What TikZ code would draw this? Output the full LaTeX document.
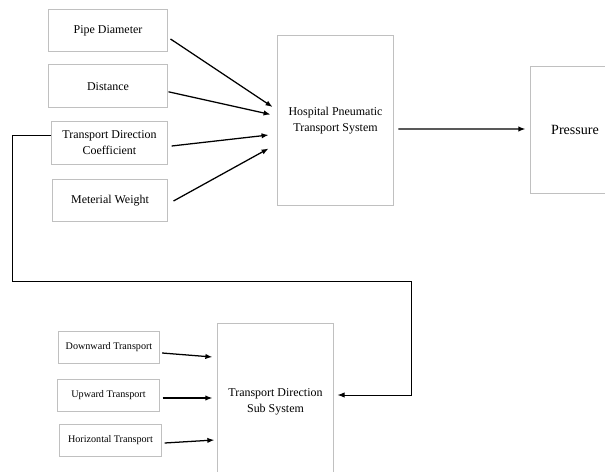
\documentclass[tikz,border=0pt]{standalone}
\usepackage{fontspec}
\setmainfont{Liberation Serif}
\usepackage{tikz}
\usetikzlibrary{arrows.meta, positioning, calc}
\definecolor{boxgray}{RGB}{192,192,192}

\begin{document}
\begin{tikzpicture}[
    x=0.025cm, y=-0.025cm,
    inbox/.style={
        rectangle, draw=boxgray, line width=0.7pt,
        minimum width=2.95cm, minimum height=1.07cm,
        inner sep=1pt, align=center,
        font=\fontsize{8.5}{11.5}\selectfont
    },
    smallbox/.style={
        inbox,
        minimum width=2.53cm, minimum height=0.8cm,
        font=\fontsize{7.2}{9}\selectfont
    },
    block/.style={
        inbox,
        minimum width=2.92cm
    },
    arr/.style={-{Latex[length=5pt, width=3.8pt]}, line width=0.9pt},
]
\useasboundingbox (0,0) rectangle (605,472);

% Entradas del sistema principal
\node[inbox] (pipe) at (108,30.5) {Pipe Diameter};
\node[inbox, below=0.3cm of pipe] (dist) {Distance};
\node[inbox, minimum width=2.88cm] (tdc) at (109.5,143) {Transport Direction\\Coefficient};
\node[inbox, minimum width=2.85cm] (weight) at (110,200.5) {Meterial Weight};

% Sistema principal y salida
\node[block, minimum height=4.27cm] (hpts) at (335.5,120.5) {Hospital Pneumatic\\Transport System};
\node[block, minimum width=2.25cm, minimum height=3.15cm, font=\fontsize{10}{12}\selectfont] (press) at (575,130) {Pressure};

% Subsistema de direccion
\node[block, minimum width=2.88cm, minimum height=3.9cm] (sub) at (275.5,402) {Transport Direction\\Sub System};
\node[smallbox] (down) at (109,347) {Downward Transport};
\node[smallbox] (up) at (108.5,395) {Upward Transport};
\node[smallbox] (horiz) at (110.5,440) {Horizontal Transport};

% Flechas hacia el sistema principal
\draw[arr] ($(pipe.east)+(3,8.5)$) -- ($(hpts.west)+(-4,-13.5)$);
\draw[arr] ($(dist.east)+(1,5.5)$) -- ($(hpts.west)+(-6,-6)$);
\draw[arr] ($(tdc.east)+(4,3)$) -- ($(hpts.west)+(-8,14.5)$);
\draw[arr] ($(weight.east)+(6,0.5)$) -- ($(hpts.west)+(-8,28)$);
\draw[arr, line width=1pt] ($(hpts.east)+(4,8.5)$) -- ($(press.west)+(-4,-1)$);

% Lazo de realimentacion
\coordinate (loopL) at (12,281);
\coordinate (loopR) at (411,281);
\draw[arr, line width=0.6pt] ($(tdc.west)+(0,-8)$) -| (loopL) -- (loopR) |- ($(sub.east)+(4,-7)$);

% Flechas del subsistema
\draw[arr] ($(down.east)+(2,6)$) -- ($(sub.west)+(-5,-45)$);
\draw[arr] ($(up.east)+(3,3)$) -- ($(sub.west)+(-5,-4)$);
\draw[arr] ($(horiz.east)+(3,3)$) -- ($(sub.west)+(-3,38)$);

\end{tikzpicture}
\end{document}
